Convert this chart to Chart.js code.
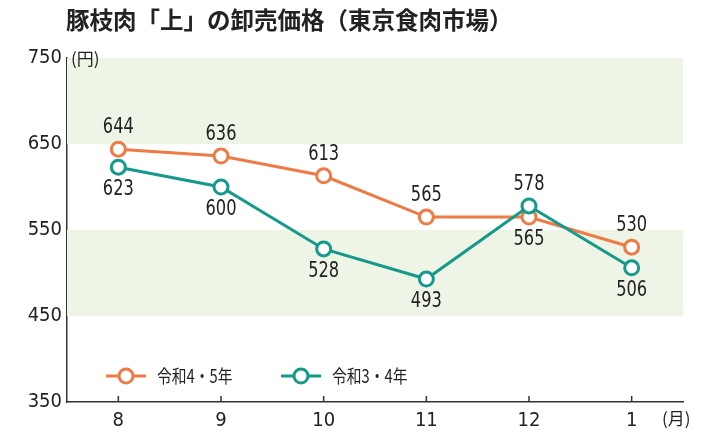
<!DOCTYPE html>
<html><head><meta charset="utf-8">
<script src="https://cdn.jsdelivr.net/npm/chart.js@4/dist/chart.umd.min.js"></script>
<style>html,body{margin:0;padding:0;background:#fff;}#wrap{width:720px;height:432px;position:relative;}</style>
</head><body><div id="wrap"><canvas id="c" width="720" height="432"></canvas></div>
<script>
const TITLE = '豚枝肉「上」の卸売価格（東京食肉市場）';
const months = ['8','9','10','11','12','1'];
const seriesA = [644, 636, 613, 565, 565, 530];
const seriesB = [623, 600, 528, 493, 578, 506];
const labelA = '令和4・5年';
const labelB = '令和3・4年';
const yTicks = [350, 450, 550, 650, 750];
const bands = [[650, 750], [450, 550]];
// label placement: 1 = above, -1 = below
const posA = [1, 1, 1, 1, -1, 1];
const posB = [-1, -1, -1, -1, 1, -1];

const ORANGE = '#ee7a45';
const TEAL = '#14998a';
const NUMFONT = '"DejaVu Sans Condensed", "Liberation Sans Narrow", "Noto Sans CJK JP", sans-serif';
const JPFONT = '"Noto Sans CJK JP", sans-serif';

function narrowText(ctx, text, x, y, sx) {
  ctx.save();
  ctx.translate(x, y);
  ctx.scale(sx, 1);
  ctx.fillText(text, 0, 0);
  ctx.restore();
}

const deco = {
  id: 'deco',
  beforeDatasetsDraw(chart) {
    const {ctx, chartArea: a, scales: {y}} = chart;
    ctx.save();
    ctx.fillStyle = '#eff5e6';
    bands.forEach(([lo, hi]) => {
      const t = y.getPixelForValue(hi), b = y.getPixelForValue(lo);
      ctx.fillRect(a.left, t, a.right - a.left, b - t);
    });
    ctx.restore();
  },
  afterDatasetsDraw(chart) {
    const {ctx, chartArea: a, scales: {x, y}} = chart;
    ctx.save();
    ctx.strokeStyle = '#333'; ctx.lineWidth = 1.5;
    months.forEach((m, i) => {
      const px = x.getPixelForValue(i);
      ctx.beginPath(); ctx.moveTo(px, a.bottom); ctx.lineTo(px, a.bottom - 6); ctx.stroke();
    });
    ctx.fillStyle = '#222';
    ctx.font = '22px ' + NUMFONT;
    ctx.textAlign = 'center'; ctx.textBaseline = 'middle';
    const lab = (arr, pos, idx) => {
      const meta = chart.getDatasetMeta(idx);
      meta.data.forEach((pt, i) => {
        narrowText(ctx, String(arr[i]), pt.x, pt.y - pos[i] * 22, 0.82);
      });
    };
    lab(seriesA, posA, 1);
    lab(seriesB, posB, 0);
    ctx.font = '17px ' + JPFONT;
    ctx.textAlign = 'left';
    ctx.fillText('(円)', a.left + 4, a.top + 1);
    ctx.fillText('(月)', 662, 419);
    const ly = 376;
    const leg = (x0, color, text) => {
      ctx.strokeStyle = color; ctx.lineWidth = 3;
      ctx.beginPath(); ctx.moveTo(x0, ly); ctx.lineTo(x0 + 40, ly); ctx.stroke();
      ctx.beginPath(); ctx.arc(x0 + 20, ly, 7, 0, Math.PI * 2);
      ctx.fillStyle = '#fff'; ctx.fill(); ctx.stroke();
      ctx.fillStyle = '#222';
      ctx.font = '18.5px ' + JPFONT;
      ctx.textAlign = 'left'; ctx.textBaseline = 'middle';
      narrowText(ctx, text, x0 + 51, ly, 0.8);
    };
    leg(106, ORANGE, labelA);
    leg(281, TEAL, labelB);
    ctx.font = 'bold 23.5px ' + JPFONT;
    ctx.fillStyle = '#222';
    ctx.textAlign = 'left'; ctx.textBaseline = 'middle';
    ctx.fillText(TITLE, 66, 20);
    ctx.restore();
  }
};

const ds = (label, data, color) => ({
  label, data, borderColor: color, backgroundColor: '#fff',
  borderWidth: 3, pointRadius: 7, pointBorderWidth: 3,
  pointBackgroundColor: '#fff', pointBorderColor: color, tension: 0
});

new Chart(document.getElementById('c'), {
  type: 'line',
  data: { labels: months, datasets: [ds(labelB, seriesB, TEAL), ds(labelA, seriesA, ORANGE)] },
  options: {
    responsive: false, animation: false,
    layout: { padding: { top: 58, right: 37, left: 0, bottom: 0 } },
    plugins: { legend: { display: false }, tooltip: { enabled: false }, title: { display: false } },
    scales: {
      x: {
        offset: true,
        grid: { display: false, drawTicks: false },
        border: { display: true, color: '#333', width: 1.5 },
        ticks: { color: '#222', padding: 7, font: { size: 20, family: NUMFONT } },
        afterFit(s) { s.height = 30; }
      },
      y: {
        min: 350, max: 750,
        afterBuildTicks(s) { s.ticks = yTicks.map(v => ({ value: v })); },
        grid: { display: false, drawTicks: false },
        border: { display: true, color: '#333', width: 1.5 },
        ticks: { color: '#222', padding: 5, font: { size: 20, family: NUMFONT } },
        afterFit(s) { s.width = 67; }
      }
    }
  },
  plugins: [deco]
});
</script></body></html>
